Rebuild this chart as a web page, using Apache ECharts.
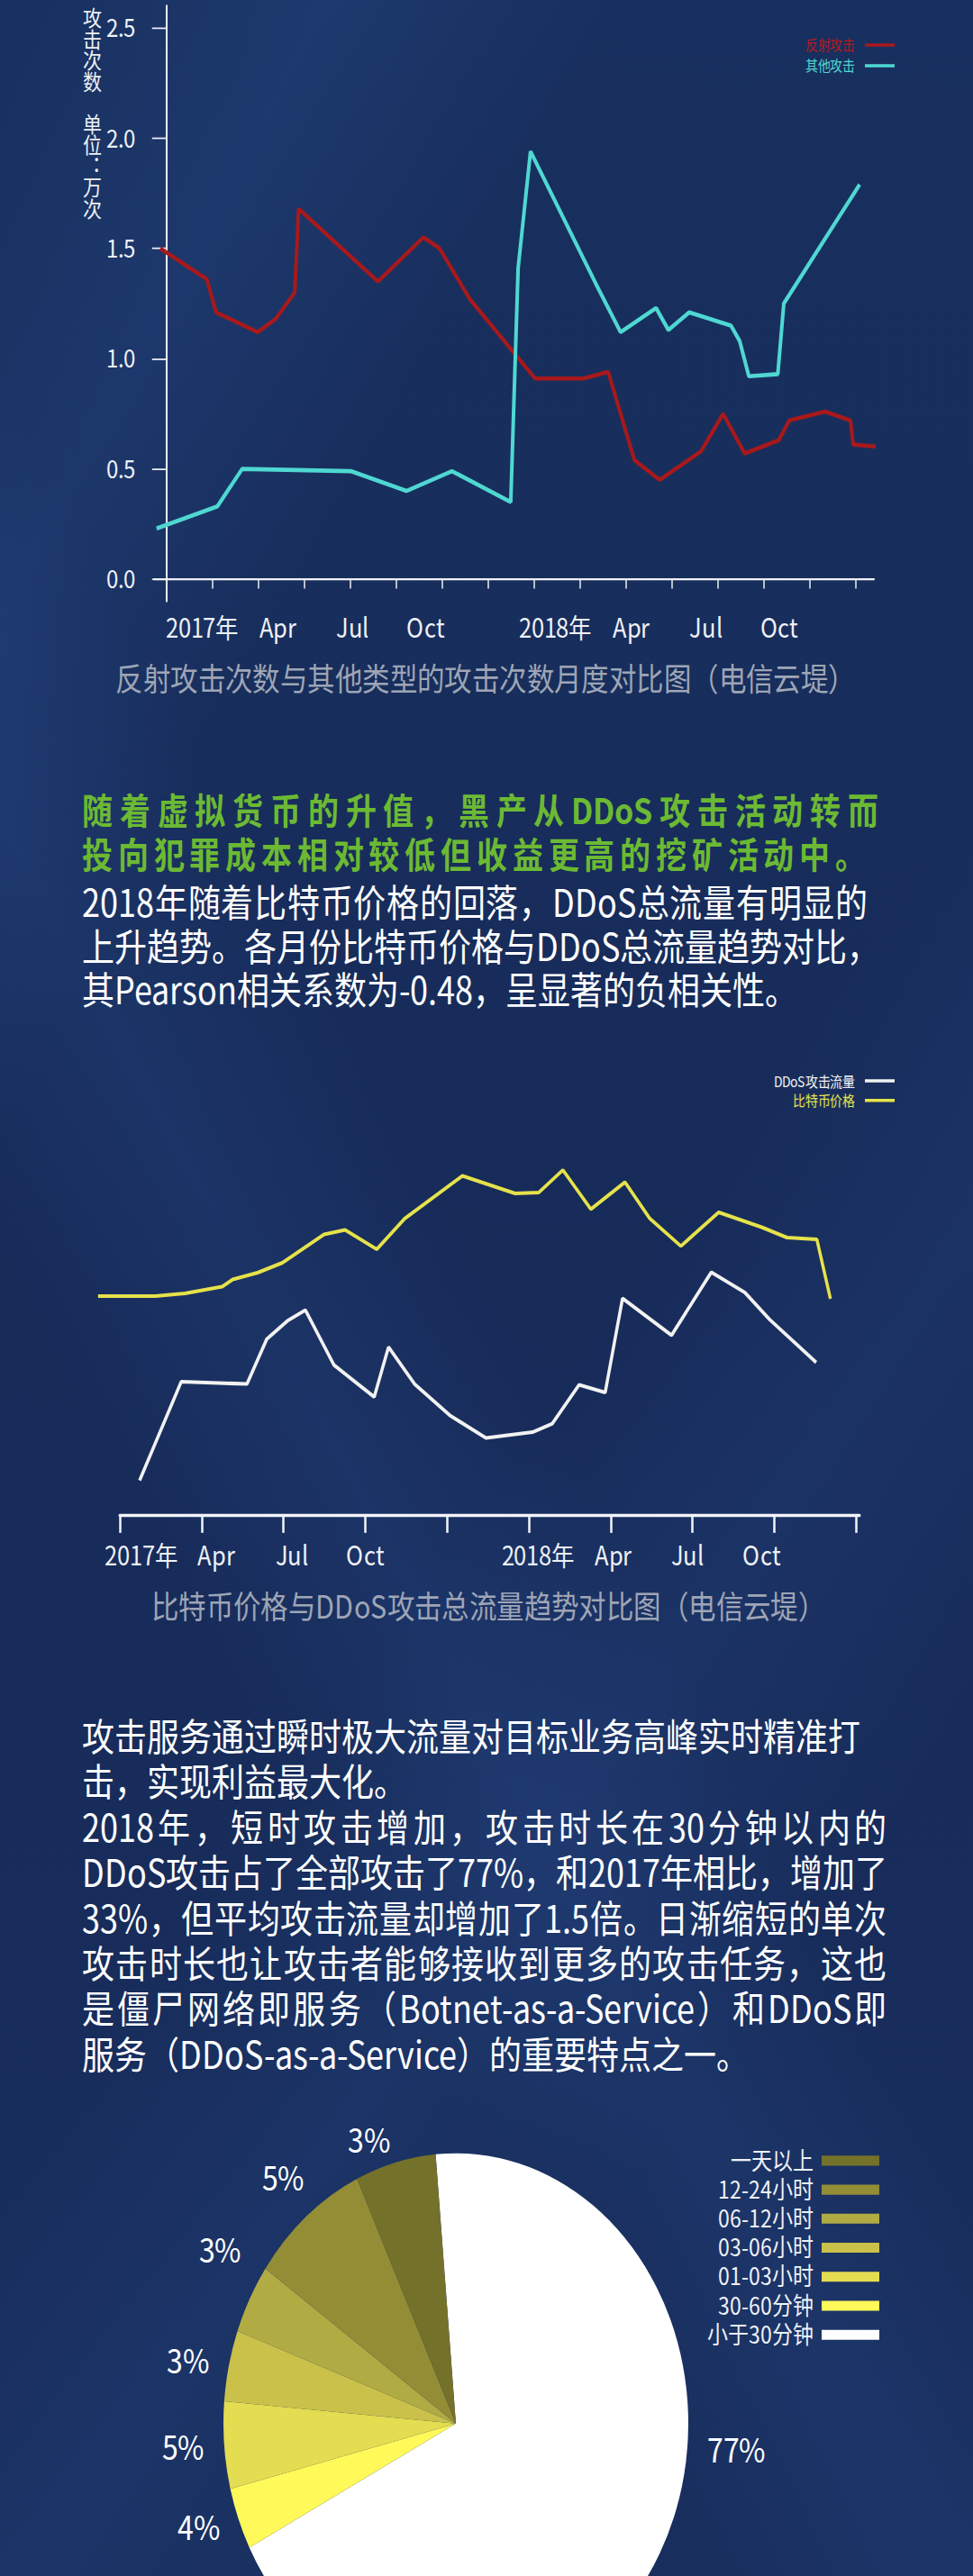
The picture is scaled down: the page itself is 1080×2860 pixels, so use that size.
<!DOCTYPE html>
<html>
<head>
<meta charset="utf-8">
<title>DDoS</title>
<script src="https://cdn.jsdelivr.net/npm/echarts@6/dist/echarts.min.js"></script>
<style>
/* 同一字体，只收紧行框，使紧排的多行文字不互相压住 */
@font-face {
	font-family: "NotoTight";
	src: local("Noto Sans CJK SC"), local("Noto Sans CJK SC Regular"), local("NotoSansCJKsc-Regular");
	font-weight: 400;
	ascent-override: 90%; descent-override: 15%; line-gap-override: 0%;
}
@font-face {
	font-family: "NotoTight";
	src: local("Noto Sans CJK SC Bold"), local("NotoSansCJKsc-Bold");
	font-weight: 700;
	ascent-override: 90%; descent-override: 15%; line-gap-override: 0%;
}
html, body { margin: 0; padding: 0; }
body {
	width: 1080px; height: 2860px; overflow: hidden;
	background-color: #172c5a;
	background-image:
		linear-gradient(118deg, rgba(0,0,0,0) 0%, rgba(48,88,160,0.22) 14%, rgba(0,0,0,0) 26%),
		linear-gradient(62deg, rgba(0,0,0,0) 30%, rgba(48,88,160,0.18) 40%, rgba(0,0,0,0) 50%),
		linear-gradient(125deg, rgba(0,0,0,0) 55%, rgba(48,88,160,0.16) 66%, rgba(0,0,0,0) 78%),
		linear-gradient(180deg, #18305f 0%, #172b59 50%, #182e5d 100%);
}
/* 原图整体被纵向拉伸过，这里按同样比例拉伸 */
#page {
	position: absolute; left: 0; top: 0; width: 1080px; height: 2459px;
	transform: scaleY(1.1631); transform-origin: 0 0;
	font-family: "NotoTight", "Noto Sans CJK SC", "Noto Sans", sans-serif;
}
.chart { position: absolute; left: 0; width: 1080px; }
.ln { position: absolute; left: 91px; white-space: nowrap; color: #fff; font-size: 36px; line-height: 42px; }
.p2 { line-height: 43.4px; }
.jf { text-align: justify; text-align-last: justify; }
.green { color: #6cb933; font-weight: bold; font-size: 34px; }
/* 纵轴名称：竖排 */
#yname {
	position: absolute; left: 91.5px; top: 6.7px; z-index: 2;
	writing-mode: vertical-rl; font-size: 21px; line-height: 21px;
	letter-spacing: -0.8px; color: #eef1f6; white-space: nowrap;
}
</style>
</head>
<body>
<div id="page">
	<div id="c1" class="chart" style="top:0;height:680px"></div>
	<div id="yname">攻击次数　单位：万次</div>

	<div class="ln green jf" style="top:752.8px;width:884px">随着虚拟货币的升值，黑产从DDoS攻击活动转而</div>
	<div class="ln green jf" style="top:795px;width:870px">投向犯罪成本相对较低但收益更高的挖矿活动中。</div>
	<div class="ln jf" style="top:840.5px;width:872px">2018年随着比特币价格的回落，DDoS总流量有明显的</div>
	<div class="ln jf" style="top:882.7px;width:872px">上升趋势。各月份比特币价格与DDoS总流量趋势对比，</div>
	<div class="ln" style="top:924.8px">其Pearson相关系数为-0.48，呈显著的负相关性。</div>

	<div id="c2" class="chart" style="top:990px;height:580px"></div>

	<div class="ln p2" style="top:1636px">攻击服务通过瞬时极大流量对目标业务高峰实时精准打</div>
	<div class="ln p2" style="top:1679.4px">击，实现利益最大化。</div>
	<div class="ln p2 jf" style="top:1722.8px;width:893px">2018年，短时攻击增加，攻击时长在30分钟以内的</div>
	<div class="ln p2 jf" style="top:1766.2px;width:893px">DDoS攻击占了全部攻击了77%，和2017年相比，增加了</div>
	<div class="ln p2 jf" style="top:1809.6px;width:893px">33%，但平均攻击流量却增加了1.5倍。日渐缩短的单次</div>
	<div class="ln p2 jf" style="top:1853px;width:893px">攻击时长也让攻击者能够接收到更多的攻击任务，这也</div>
	<div class="ln p2 jf" style="top:1896.4px;width:893px">是僵尸网络即服务（Botnet-as-a-Service）和DDoS即</div>
	<div class="ln p2" style="top:1939.8px">服务（DDoS-as-a-Service）的重要特点之一。</div>

	<div id="c3" class="chart" style="top:1980px;height:479px"></div>
</div>
<script>
var FONT = '"NotoTight","Noto Sans CJK SC","Noto Sans",sans-serif';
var AXIS = '#eef1f6';

// ---- 图1 反射攻击 / 其他攻击（横轴：刻度序号，纵轴：万次）
var ticks1 = [0, 1, 2, 3, 4, 5, 6, 7, 8, 9, 10, 11, 12, 13, 14, 15];
var labelPos1 = [0.78, 2.42, 4.05, 5.63, 8.46, 10.11, 11.74, 13.32];
var labelText1 = ['2017年', 'Apr', 'Jul', 'Oct', '2018年', 'Apr', 'Jul', 'Oct'];
var yTicks1 = [0, 0.5, 1, 1.5, 2, 2.5];
var reflectX = [-0.135, 0.877, 1.08, 1.985, 2.375, 2.79, 2.875, 4.60, 5.59, 5.94, 6.60, 8.02, 9.07, 9.61, 10.18, 10.73, 11.63, 12.11, 12.58, 13.32, 13.55, 14.33, 14.88, 14.94, 15.52];
var reflectY = [1.50, 1.36, 1.21, 1.12, 1.18, 1.30, 1.68, 1.35, 1.55, 1.50, 1.27, 0.91, 0.91, 0.94, 0.54, 0.45, 0.58, 0.75, 0.57, 0.63, 0.72, 0.76, 0.72, 0.61, 0.60];
var otherX = [-0.216, 1.107, 1.646, 4.01, 5.22, 6.21, 7.49, 7.65, 7.92, 9.34, 9.88, 10.65, 10.92, 11.37, 12.28, 12.47, 12.67, 13.30, 13.43, 15.08];
var otherY = [0.23, 0.33, 0.50, 0.49, 0.40, 0.49, 0.35, 1.41, 1.94, 1.34, 1.12, 1.23, 1.13, 1.21, 1.15, 1.08, 0.92, 0.93, 1.25, 1.79];

// ---- 图2 DDoS攻击流量 / 比特币价格（无纵轴，纵向为相对指数 0-100）
var ticks2 = [0, 1, 2, 3, 4, 5, 6, 7, 8, 9];
var labelPos2 = [0.264, 1.178, 2.104, 2.996, 5.110, 6.030, 6.938, 7.841];
var labelText2 = ['2017年', 'Apr', 'Jul', 'Oct', '2018年', 'Apr', 'Jul', 'Oct'];
var btcX = [-0.266, 0.432, 0.796, 1.251, 1.380, 1.684, 1.987, 2.496, 2.753, 3.140, 3.481, 4.187, 4.831, 5.120, 5.415, 5.757, 6.174, 6.478, 6.857, 7.320, 7.844, 8.154, 8.519, 8.685];
var btcY = [48.6, 48.6, 49.2, 50.7, 52.3, 53.8, 56.0, 62.3, 63.3, 59.0, 65.8, 75.3, 71.4, 71.6, 76.6, 67.9, 73.9, 65.8, 59.7, 67.2, 63.9, 61.6, 61.2, 48.0];
var ddosX = [0.242, 0.750, 1.554, 1.797, 2.047, 2.268, 2.617, 3.109, 3.284, 3.602, 4.043, 4.475, 5.044, 5.286, 5.613, 5.932, 6.144, 6.743, 7.229, 7.639, 7.942, 8.511];
var ddosY = [7.7, 29.6, 29.1, 39.1, 43.1, 45.5, 33.3, 26.2, 37.3, 29.1, 22.0, 17.1, 18.4, 20.3, 28.9, 27.2, 48.1, 39.9, 53.9, 49.4, 43.4, 33.9];

// ---- 图3 攻击时长分布（扇区按图上角度量取，标签为图上所印百分比）
var pieNames = ['小于30分钟', '30-60分钟', '01-03小时', '03-06小时', '06-12小时', '12-24小时', '一天以上'];
var pieShare = [68.8, 3.7, 5.2, 4.25, 4.15, 8.3, 5.6];
var pieLabel = ['77%', '4%', '5%', '3%', '3%', '5%', '3%'];
var pieColors = ['#ffffff', '#fff95a', '#e4dc51', '#c9c14a', '#b1ab44', '#938d36', '#74712b'];

function zip(xs, ys) {
	return xs.map(function (x, i) { return [x, ys[i]]; });
}
function pickLabel(pos, text) {
	return function (v) {
		var best = 0;
		for (var i = 1; i < pos.length; i++) {
			if (Math.abs(pos[i] - v) < Math.abs(pos[best] - v)) best = i;
		}
		return text[best];
	};
}

var c1 = echarts.init(document.getElementById('c1'), null, { renderer: 'svg' });
c1.setOption({
	animation: false,
	textStyle: { fontFamily: FONT },
	title: {
		text: '反射攻击次数与其他类型的攻击次数月度对比图（电信云堤）',
		left: 534, top: 628, textAlign: 'center',
		textStyle: { color: '#9ea5b5', fontSize: 30.5, fontWeight: 'normal', fontFamily: FONT }
	},
	legend: {
		orient: 'vertical', right: 87, top: 36, align: 'right', padding: 0,
		icon: 'rect', itemWidth: 33, itemHeight: 3, itemGap: 5.8,
		selectedMode: false,
		textStyle: { fontSize: 14, lineHeight: 14, padding: [0, 6, 0, 0], fontFamily: FONT },
		data: [
			{ name: '反射攻击', textStyle: { color: '#b01c1e' } },
			{ name: '其他攻击', textStyle: { color: '#4fd8d2' } }
		]
	},
	grid: { left: 171, width: 799, top: 5.56, height: 568.35 },
	xAxis: {
		type: 'value', min: -0.27, max: 15.39,
		splitLine: { show: false },
		axisLine: { lineStyle: { color: AXIS, width: 2 } },
		axisTick: { customValues: ticks1, length: 9, lineStyle: { color: AXIS, width: 1.5 } },
		axisLabel: {
			customValues: labelPos1, formatter: pickLabel(labelPos1, labelText1),
			color: AXIS, fontSize: 25.5, margin: 12, fontFamily: FONT
		}
	},
	yAxis: {
		type: 'value', min: -0.1, max: 2.6,
		splitLine: { show: false },
		axisLine: { show: true, lineStyle: { color: AXIS, width: 2 } },
		axisTick: { show: true, customValues: yTicks1, length: 16, lineStyle: { color: AXIS, width: 1.5 } },
		axisLabel: {
			customValues: yTicks1, formatter: function (v) { return v.toFixed(1); },
			color: AXIS, fontSize: 24, margin: 21, fontFamily: FONT
		}
	},
	series: [
		{ name: '反射攻击', type: 'line', data: zip(reflectX, reflectY), symbol: 'none', clip: false,
			itemStyle: { color: '#a8191b' }, lineStyle: { color: '#a8191b', width: 4 } },
		{ name: '其他攻击', type: 'line', data: zip(otherX, otherY), symbol: 'none', clip: false,
			itemStyle: { color: '#4fd8d2' }, lineStyle: { color: '#4fd8d2', width: 4 } }
	]
});

var c2 = echarts.init(document.getElementById('c2'), null, { renderer: 'svg' });
c2.setOption({
	animation: false,
	textStyle: { fontFamily: FONT },
	title: {
		text: '比特币价格与DDoS攻击总流量趋势对比图（电信云堤）',
		left: 537, top: 523.6, textAlign: 'center',
		textStyle: { color: '#9ea5b5', fontSize: 30.5, fontWeight: 'normal', fontFamily: FONT }
	},
	legend: {
		orient: 'vertical', right: 87, top: 34.8, align: 'right', padding: 0,
		icon: 'rect', itemWidth: 33, itemHeight: 3, itemGap: 4.6,
		selectedMode: false,
		textStyle: { fontSize: 14, lineHeight: 14, padding: [0, 6, 0, 0], fontFamily: FONT },
		data: [
			{ name: 'DDoS攻击流量', textStyle: { color: '#f2f2f2' } },
			{ name: '比特币价格', textStyle: { color: '#e6e24b' } }
		]
	},
	grid: [
		{ left: 105.76, width: 848.24, top: 26.2, height: 430 },
		{ left: 133, width: 821, top: 26.2, height: 430 }
	],
	xAxis: [
		{ type: 'value', gridIndex: 0, min: -0.3, max: 9.04, show: false },
		{
			type: 'value', gridIndex: 1, min: 0, max: 9.04,
			splitLine: { show: false },
			axisLine: { lineStyle: { color: '#f2f4f8', width: 3 } },
			axisTick: { customValues: ticks2, length: 17, lineStyle: { color: '#f2f4f8', width: 2.5 } },
			axisLabel: {
				customValues: labelPos2, formatter: pickLabel(labelPos2, labelText2),
				color: AXIS, fontSize: 25.5, margin: 25, fontFamily: FONT
			}
		}
	],
	yAxis: [
		{ type: 'value', gridIndex: 0, min: 0, max: 100, show: false },
		{ type: 'value', gridIndex: 1, min: 0, max: 100, show: false }
	],
	series: [
		{ name: 'DDoS攻击流量', type: 'line', xAxisIndex: 0, yAxisIndex: 0, data: zip(ddosX, ddosY),
			symbol: 'none', itemStyle: { color: '#f2f2f2' }, lineStyle: { color: '#f2f2f2', width: 3.5 } },
		{ name: '比特币价格', type: 'line', xAxisIndex: 0, yAxisIndex: 0, data: zip(btcX, btcY),
			symbol: 'none', itemStyle: { color: '#e6e24b' }, lineStyle: { color: '#e6e24b', width: 3.5 } }
	]
});

var pieCenter = [506, 333.4];
var pieRadius = 258;
// 两个标签在原图里比扇区中线略偏上
var labelNudge = { 4: [10, -36], 5: [12, -20] };
var c3 = echarts.init(document.getElementById('c3'), null, { renderer: 'svg' });
c3.setOption({
	animation: false,
	textStyle: { fontFamily: FONT },
	legend: {
		orient: 'vertical', right: 104, top: 71, align: 'right', padding: 0,
		icon: 'rect', itemWidth: 64, itemHeight: 9.5, itemGap: 4.7,
		selectedMode: false,
		textStyle: { color: AXIS, fontSize: 23, lineHeight: 23, padding: [0, 4, 0, 0], fontFamily: FONT },
		data: pieNames.slice().reverse()
	},
	series: [{
		type: 'pie',
		center: pieCenter, radius: pieRadius,
		startAngle: 95, clockwise: true,
		avoidLabelOverlap: false,
		silent: true,
		label: {
			position: 'outside', color: '#ffffff', fontSize: 32, fontFamily: FONT,
			distanceToLabelLine: 0,
			formatter: function (p) { return pieLabel[p.dataIndex]; }
		},
		labelLine: { show: false, length: 22, length2: 0 },
		labelLayout: function (p) {
			if (p.dataIndex === 0) {
				return { x: pieCenter[0] + pieRadius + 21, y: pieCenter[1] + 25, align: 'left', verticalAlign: 'middle' };
			}
			var n = labelNudge[p.dataIndex];
			return n ? { dx: n[0], dy: n[1] } : {};
		},
		data: pieNames.map(function (n, i) {
			return { name: n, value: pieShare[i], itemStyle: { color: pieColors[i] } };
		})
	}]
});
</script>
</body>
</html>
